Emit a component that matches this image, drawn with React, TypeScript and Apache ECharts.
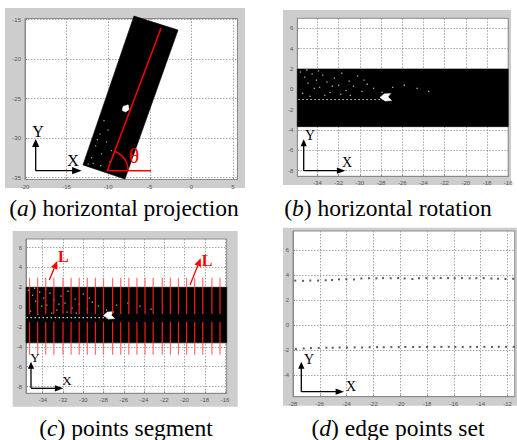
import React, { useEffect, useRef } from "react";
import * as echarts from "echarts";

// ---------- tick values ----------
const A_X_TICKS = [-20, -15, -10, -5, 0, 5];
const A_Y_TICKS = [-35, -30, -25, -20, -15];
const B_X_TICKS = [-34, -32, -30, -28, -26, -24, -22, -20, -18, -16];
const B_Y_TICKS = [-8, -6, -4, -2, 0, 2, 4, 6];
const C_X_TICKS = [-34, -32, -30, -28, -26, -24, -22, -20, -18, -16];
const C_Y_TICKS = [-8, -6, -4, -2, 0, 2, 4, 6];
const D_X_TICKS = [-28, -26, -24, -22, -20, -18, -16, -14, -12];
const D_Y_TICKS = [-4, -2, 0, 2, 4, 6];

// ---------- panel (a): projected point cloud ----------
const A_CLOUD = [[-6.9, -14.56], [-1.6, -16.33], [-7.98, -35.2], [-13.03, -33.4]];
const A_BLOB = [[-8.2, -26.0], [-7.6, -25.8], [-7.5, -26.4], [-7.9, -26.7], [-8.3, -26.5]];
const A_SPECKLE = [[-12, -32.5], [-11.5, -31], [-11, -29.5], [-10.8, -32], [-10.2, -30.5], [-11.8, -33.2], [-10.5, -27.8], [-9.8, -33], [-11.3, -30.2], [-12.4, -33.3], [-10.9, -33.5], [-9.6, -31.6], [-10.0, -29.0]];
const A_AXIS_LINE = [[-10.1, -34.14], [-3.65, -16.1]];
const A_BASE_LINE = [[-10.1, -34.14], [-4.85, -34.14]];
const A_ARC = [-10.1, -34.14, 2.5, 69.3]; // centre x, centre y, radius, angle (deg)

// ---------- panel (b)/(c): rotated cloud ----------
const B_CLOUD = [[-35.9, 2.0], [-16, 2.0], [-16, -3.67], [-35.9, -3.67]];
const C_CLOUD = [[-35.65, 2.0], [-15.84, 2.0], [-15.84, -3.6], [-35.65, -3.6]];
const B_BLOB = [[-28.1, -0.8], [-27.7, -0.45], [-27.1, -0.42], [-27.35, -0.75], [-27.0, -1.1], [-27.6, -1.15]];
const C_BLOB = [[-28.0, -0.85], [-27.6, -0.5], [-27.0, -0.47], [-27.25, -0.8], [-26.9, -1.15], [-27.5, -1.2]];
const NOISE = [[-35.6, 1.7], [-35.2, 1.2], [-34.9, 0.6], [-34.5, 1.5], [-34.1, 0.9], [-33.8, 0.2], [-33.5, 1.4], [-33.1, 0.7], [-32.8, -0.3], [-32.4, 1.1], [-32.0, 0.4], [-31.7, 1.6], [-31.3, -0.1], [-31.0, 0.8], [-30.6, 0.3], [-30.2, 1.3], [-29.8, -0.2], [-29.3, 0.5], [-28.7, 0.1], [-27.9, -0.3], [-26.9, 0.2], [-25.8, 0.4], [-35.4, -0.4], [-34.7, -0.7], [-34.3, 0.1], [-33.3, -0.6], [-32.6, 0.3], [-31.8, -0.5], [-35.0, 1.9], [-33.9, 1.8], [-30.9, -0.6], [-29.6, 0.9], [-24.6, 0.1], [-23.5, -0.2]];
const NOISE_ROW = [[-35.8, -1.0], [-27.8, -1.0]];

// ---------- panel (c): segment lines ----------
const SEG_X = [-35.3, -34.5, -33.7, -32.9, -32.0, -31.2, -30.4, -29.6, -28.8, -28.0, -27.1, -26.3, -25.5, -24.7, -23.9, -23.1, -22.2, -21.4, -20.6, -19.8, -19.0, -18.2, -17.3, -16.5];
const SEG_UPPER = [2.95, 2.0, -0.7];
const SEG_LOWER = [-1.5, -3.6, -4.8];

// ---------- panel (d): edge points ----------
const EDGE_X = [-27.83, -27.25, -26.71, -26.13, -25.56, -25.09, -24.57, -24.02, -23.45, -22.9, -22.33, -21.78, -21.28, -20.71, -20.16, -19.67, -19.09, -18.6, -18.05, -17.5, -16.98, -16.43, -15.94, -15.39, -14.82, -14.32, -13.77, -13.2, -12.7, -12.15, -11.58];
const EDGE_UPPER = [3.55, 3.53, 3.56, 3.55, 3.58, 3.6, 3.65, 3.66, 3.64, 3.72, 3.74, 3.73, 3.75, 3.74, 3.76, 3.72, 3.68, 3.74, 3.75, 3.74, 3.76, 3.75, 3.74, 3.75, 3.73, 3.74, 3.75, 3.72, 3.7, 3.68, 3.7];
const EDGE_LOWER = [-1.92, -1.88, -1.85, -1.84, -1.82, -1.82, -1.8, -1.81, -1.79, -1.8, -1.78, -1.77, -1.78, -1.77, -1.77, -1.76, -1.77, -1.76, -1.76, -1.77, -1.76, -1.75, -1.76, -1.76, -1.75, -1.76, -1.75, -1.76, -1.75, -1.76, -1.75];

const SERIF = "Liberation Serif";
const SANS = "Liberation Sans";

function mkAxis(kind: "x" | "y", gi: number, min: number, max: number, ticks: number[]) {
  return {
    type: "value",
    gridIndex: gi,
    min,
    max,
    position: kind === "x" ? "bottom" : "left",
    axisLine: { show: true, onZero: false, lineStyle: { color: "#8a8a8a", width: 1 } },
    axisTick: { show: true, inside: true, length: 2, customValues: ticks, lineStyle: { color: "#8a8a8a" } },
    axisLabel: { customValues: ticks, fontSize: 6, color: "#555", margin: 4, fontFamily: SANS },
    splitLine: { show: true, lineStyle: { color: "#8f8f8f", type: [1.5, 1.5], width: 0.8 } },
  };
}

function polySeries(gi: number, pts: number[][], color: string, z: number) {
  return {
    type: "custom",
    xAxisIndex: gi,
    yAxisIndex: gi,
    z,
    silent: true,
    data: [pts.flat()],
    renderItem: (_p: any, api: any) => {
      const points: number[][] = [];
      for (let i = 0; i < pts.length; i++) points.push(api.coord([api.value(2 * i), api.value(2 * i + 1)]));
      return { type: "polygon", shape: { points }, style: { fill: color, stroke: color, lineWidth: 0.6 } };
    },
  };
}

function dotSeries(gi: number, pts: number[][], color: string, size: number, z: number) {
  return {
    type: "scatter", xAxisIndex: gi, yAxisIndex: gi, z, silent: true,
    symbol: "rect", symbolSize: size, itemStyle: { color }, data: pts,
  };
}

function lineSeries(gi: number, pts: number[][], color: string, width: number, z: number, type: any = "solid") {
  return {
    type: "line", xAxisIndex: gi, yAxisIndex: gi, z, silent: true, symbol: "none",
    lineStyle: { color, width, type }, data: pts,
  };
}

function txt(x: number, y: number, text: string, size: number, color: string, weight?: string) {
  const style: any = { text, fill: color, fontFamily: SERIF, fontSize: size, align: "center", verticalAlign: "middle" };
  if (weight) style.fontWeight = weight;
  return { type: "text", z: 100, x, y, style };
}

function axisGlyph(ox: number, oy: number, vy: number, hx: number, yPos: number[], xPos: number[], fs: number, head: number) {
  const w = head * 0.45;
  return [
    { type: "line", z: 100, shape: { x1: ox, y1: oy, x2: ox, y2: vy + head - 1 }, style: { stroke: "#000", lineWidth: 1.3 } },
    { type: "polygon", z: 100, shape: { points: [[ox, vy], [ox - w, vy + head], [ox + w, vy + head]] }, style: { fill: "#000" } },
    { type: "line", z: 100, shape: { x1: ox, y1: oy, x2: hx - head + 1, y2: oy }, style: { stroke: "#000", lineWidth: 1.3 } },
    { type: "polygon", z: 100, shape: { points: [[hx, oy], [hx - head * 1.2, oy - w], [hx - head * 1.2, oy + w]] }, style: { fill: "#000" } },
    txt(yPos[0], yPos[1], "Y", fs, "#000"),
    txt(xPos[0], xPos[1], "X", fs, "#000"),
  ];
}

function caption(x: number, y: number, letter: string, rest: string) {
  return {
    type: "text", z: 100, x, y,
    style: {
      text: "({i|" + letter + "}) " + rest,
      fill: "#000", fontFamily: SERIF, fontSize: 23.5, align: "center", verticalAlign: "middle",
      rich: { i: { fontStyle: "italic", fontSize: 23.5, fontFamily: SERIF, fill: "#000" } },
    },
  };
}

function redArrow(x1: number, y1: number, x2: number, y2: number, lx: number, ly: number) {
  const ang = Math.atan2(y2 - y1, x2 - x1);
  const hl = 8, hw = 3.5;
  const bx = x2 - hl * Math.cos(ang), by = y2 - hl * Math.sin(ang);
  const px = -Math.sin(ang), py = Math.cos(ang);
  return [
    { type: "line", z: 100, shape: { x1, y1, x2: bx, y2: by }, style: { stroke: "#ff0000", lineWidth: 1.3 } },
    { type: "polygon", z: 100, shape: { points: [[x2, y2], [bx + px * hw, by + py * hw], [bx - px * hw, by - py * hw]] }, style: { fill: "#ff0000" } },
    txt(lx, ly, "L", 16, "#ff0000", "bold"),
  ];
}

export default function App() {
  const ref = useRef<HTMLDivElement>(null);
  useEffect(() => {
    if (!ref.current) return;
    const chart = echarts.init(ref.current, undefined, { renderer: "svg" });
    const segData = SEG_X.map((x) => [x, ...SEG_UPPER, ...SEG_LOWER]);
    const option: any = {
      animation: false,
      backgroundColor: "#ffffff",
      grid: [
        { left: 25, top: 18.5, width: 212.5, height: 161 },
        { left: 297.3, top: 18.3, width: 210.9, height: 158 },
        { left: 26, top: 239, width: 200.7, height: 154.3 },
        { left: 293, top: 231, width: 221.7, height: 165.7 },
      ].map((g) => ({ ...g, show: true, backgroundColor: "#ffffff", borderColor: "#8a8a8a", borderWidth: 1, containLabel: false })),
      xAxis: [
        mkAxis("x", 0, -20, 5.55, A_X_TICKS),
        mkAxis("x", 1, -35.9, -16, B_X_TICKS),
        mkAxis("x", 2, -35.65, -15.84, C_X_TICKS),
        mkAxis("x", 3, -28, -11.46, D_X_TICKS),
      ],
      yAxis: [
        mkAxis("y", 0, -35.25, -14.87, A_Y_TICKS),
        mkAxis("y", 1, -8.55, 6.98, B_Y_TICKS),
        mkAxis("y", 2, -8.68, 6.86, C_Y_TICKS),
        mkAxis("y", 3, -5.74, 7.52, D_Y_TICKS),
      ],
      series: [
        // (a)
        polySeries(0, A_CLOUD, "#000000", 5),
        dotSeries(0, A_SPECKLE, "#cfcfcf", 1.2, 6),
        polySeries(0, A_BLOB, "#ffffff", 6),
        lineSeries(0, A_AXIS_LINE, "#ff0000", 1.5, 8),
        lineSeries(0, A_BASE_LINE, "#ff0000", 1.5, 8),
        {
          type: "custom", xAxisIndex: 0, yAxisIndex: 0, z: 8, silent: true,
          data: [A_ARC],
          renderItem: (_p: any, api: any) => {
            const c = api.coord([api.value(0), api.value(1)]);
            const r = api.size([api.value(2), 0])[0];
            const a = (api.value(3) * Math.PI) / 180;
            return { type: "arc", shape: { cx: c[0], cy: c[1], r, startAngle: -a, endAngle: 0, clockwise: true }, style: { stroke: "#ff0000", fill: null, lineWidth: 1.5 } };
          },
        },
        // (b)
        polySeries(1, B_CLOUD, "#000000", 5),
        dotSeries(1, NOISE, "#d8d8d8", 1.3, 6),
        lineSeries(1, NOISE_ROW, "#cccccc", 1.2, 6, [1.5, 2.5]),
        polySeries(1, B_BLOB, "#ffffff", 6),
        // (c)
        polySeries(2, C_CLOUD, "#000000", 5),
        dotSeries(2, NOISE.map(([x, y]) => [x + 0.2, y]), "#d8d8d8", 1.3, 6),
        lineSeries(2, NOISE_ROW.map(([x, y]) => [x + 0.2, y - 0.05]), "#cccccc", 1.2, 6, [1.5, 2.5]),
        polySeries(2, C_BLOB, "#ffffff", 6),
        {
          type: "custom", xAxisIndex: 2, yAxisIndex: 2, z: 8, silent: true,
          data: segData,
          renderItem: (_p: any, api: any) => {
            const x = api.value(0);
            const pts = [1, 2, 3, 4, 5, 6].map((i) => api.coord([x, api.value(i)]));
            const light = "#ff7070", bright = "#ff1a1a";
            const ln = (p: number[], q: number[], c: string) => ({ type: "line", shape: { x1: p[0], y1: p[1], x2: q[0], y2: q[1] }, style: { stroke: c, lineWidth: 1.2 } });
            return { type: "group", children: [ln(pts[0], pts[1], light), ln(pts[1], pts[2], bright), ln(pts[3], pts[4], bright), ln(pts[4], pts[5], light)] };
          },
        },
        // (d)
        dotSeries(3, EDGE_X.map((x, i) => [x, EDGE_UPPER[i]]), "#333333", 2, 6),
        dotSeries(3, EDGE_X.map((x, i) => [x + 0.05, EDGE_LOWER[i]]), "#333333", 2, 6),
      ],
      graphic: [
        // gray figure backgrounds
        { type: "rect", z: -5, silent: true, shape: { x: 5, y: 8, width: 240, height: 180 }, style: { fill: "#cdcdcd" } },
        { type: "rect", z: -5, silent: true, shape: { x: 283, y: 10, width: 228, height: 175 }, style: { fill: "#cdcdcd" } },
        { type: "rect", z: -5, silent: true, shape: { x: 12.7, y: 231, width: 225, height: 175.7 }, style: { fill: "#cdcdcd" } },
        { type: "rect", z: -5, silent: true, shape: { x: 283, y: 227.7, width: 234, height: 178 }, style: { fill: "#cdcdcd" } },
        ...axisGlyph(35.7, 170.7, 139, 81.7, [38, 131.7], [73, 160], 16, 8),
        ...axisGlyph(303.7, 170.7, 139.3, 345.3, [310, 135], [347, 162], 14, 7),
        ...axisGlyph(31, 388.3, 361.7, 63.3, [35, 357.7], [67, 380], 13, 7),
        ...axisGlyph(301.3, 391.7, 361.7, 344, [309, 359], [351, 386], 14, 7),
        txt(134, 155, "θ", 22, "#ff0000"),
        ...redArrow(49.3, 280, 57.3, 261, 63.3, 256),
        ...redArrow(190, 285, 200.7, 258.3, 207, 260),
        caption(124, 208, "a", "horizontal projection"),
        caption(388, 208, "b", "horizontal rotation"),
        caption(126, 428, "c", "points segment"),
        caption(398, 428, "d", "edge points set"),
      ],
    };
    chart.setOption(option);
    return () => chart.dispose();
  }, []);
  return <div ref={ref} style={{ position: "fixed", left: 0, top: 0, width: 517, height: 440, background: "#fff" }} />;
}
